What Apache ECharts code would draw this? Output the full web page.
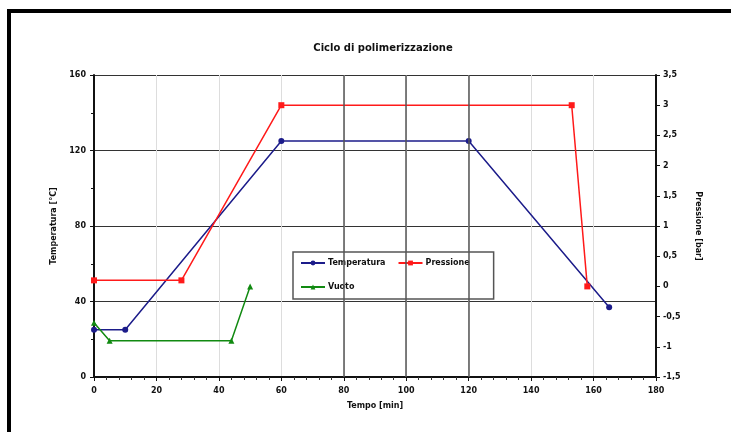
<!DOCTYPE html>
<html>
<head>
<meta charset="utf-8">
<script src="https://cdn.jsdelivr.net/npm/echarts@6/dist/echarts.min.js"></script>
<style>
  html, body { margin: 0; padding: 0; background: #fff; }
  #chart { width: 731px; height: 432px; }
</style>
</head>
<body>
<div id="chart"></div>
<script>
// Polymerisation cycle: temperature on the left axis, pressure / vacuum on the right.
const titleText = 'Ciclo di polimerizzazione';
const xName = 'Tempo [min]';
const leftName = 'Temperatura [°C]';
const rightName = 'Pressione [bar]';

// [minutes, °C]
const temperatura = [[0, 25], [10, 25], [60, 125], [120, 125], [165, 37]];
// [minutes, bar]
const pressione = [[0, 0.1], [28, 0.1], [60, 3], [153, 3], [158, 0]];
// [minutes, bar]
const vuoto = [[0, -0.6], [5, -0.9], [44, -0.9], [50, 0]];

// Vertical grid lines drawn darker than the rest
const darkGridMinutes = [80, 100, 120];

const fontFam = '"DejaVu Sans", Verdana, sans-serif';
const txt = { color: '#111', fontSize: 8, fontWeight: 'bold', fontFamily: fontFam };

const chart = echarts.init(document.getElementById('chart'));
chart.setOption({
  backgroundColor: '#fff',
  animation: false,
  title: {
    text: titleText, left: 378, top: 38, textAlign: 'center',
    textStyle: { color: '#111', fontSize: 10, fontWeight: 'bold', fontFamily: fontFam }
  },
  graphic: [{
    type: 'polyline', silent: true,
    shape: { points: [[9, 432], [9, 11], [731, 11]] },
    style: { stroke: '#000', lineWidth: 4, fill: null }
  }],
  legend: {
    left: 293, top: 252, width: 178,
    orient: 'horizontal',
    padding: [5, 24, 6, 7],
    itemGap: 12, itemWidth: 24, itemHeight: 6,
    backgroundColor: '#fff', borderColor: '#555', borderWidth: 1.5,
    textStyle: Object.assign({ padding: [0, 0, 0, -2], lineHeight: 12 }, txt),
    data: ['Temperatura', 'Pressione', 'Vuoto']
  },
  grid: { left: 94, right: 75, top: 75, bottom: 55 },
  xAxis: {
    type: 'value', min: 0, max: 180, interval: 20,
    name: xName, nameLocation: 'middle', nameGap: 25,
    nameTextStyle: Object.assign({}, txt),
    axisLine: { onZero: false, lineStyle: { color: '#111', width: 2 } },
    axisTick: { show: true, length: 4, lineStyle: { color: '#111' } },
    minorTick: { show: true, splitNumber: 5, length: 3, lineStyle: { color: '#333' } },
    axisLabel: Object.assign({ margin: 10 }, txt),
    splitLine: { show: true, lineStyle: { color: '#ddd', width: 1 } }
  },
  yAxis: [{
    type: 'value', min: 0, max: 160, interval: 40,
    name: leftName, nameLocation: 'middle', nameGap: 30, nameRotate: 90,
    nameTextStyle: Object.assign({}, txt),
    axisLine: { show: true, lineStyle: { color: '#111', width: 2 } },
    axisTick: { show: true, length: 4, lineStyle: { color: '#111' } },
    minorTick: { show: true, splitNumber: 2, length: 3, lineStyle: { color: '#111' } },
    axisLabel: Object.assign({ margin: 8 }, txt),
    splitLine: { show: true, lineStyle: { color: '#333', width: 1.2 } }
  }, {
    type: 'value', min: -1.5, max: 3.5, interval: 0.5, position: 'right',
    name: rightName, nameLocation: 'middle', nameGap: 38, nameRotate: -90,
    nameTextStyle: Object.assign({}, txt),
    axisLine: { show: true, lineStyle: { color: '#111', width: 2 } },
    axisTick: { show: true, length: 4, lineStyle: { color: '#111' } },
    axisLabel: Object.assign({
      margin: 7,
      formatter: v => String(v).replace('.', ',')
    }, txt),
    splitLine: { show: false }
  }],
  series: [{
    name: 'Temperatura', type: 'line', yAxisIndex: 0,
    data: temperatura, symbol: 'circle', symbolSize: 6,
    itemStyle: { color: '#1c1c8a' },
    lineStyle: { color: '#1c1c8a', width: 1.5 },
    markLine: {
      silent: true, symbol: 'none', label: { show: false },
      lineStyle: { color: '#555', width: 1.5, type: 'solid' },
      data: darkGridMinutes.map(m => ({ xAxis: m }))
    },
    z: 3
  }, {
    name: 'Pressione', type: 'line', yAxisIndex: 1,
    data: pressione, symbol: 'rect', symbolSize: 6,
    itemStyle: { color: '#ff1a1a' },
    lineStyle: { color: '#ff1a1a', width: 1.5 },
    z: 3
  }, {
    name: 'Vuoto', type: 'line', yAxisIndex: 1,
    data: vuoto, symbol: 'triangle', symbolSize: 6,
    itemStyle: { color: '#118a11' },
    lineStyle: { color: '#118a11', width: 1.5 },
    z: 3
  }]
});
</script>
</body>
</html>
